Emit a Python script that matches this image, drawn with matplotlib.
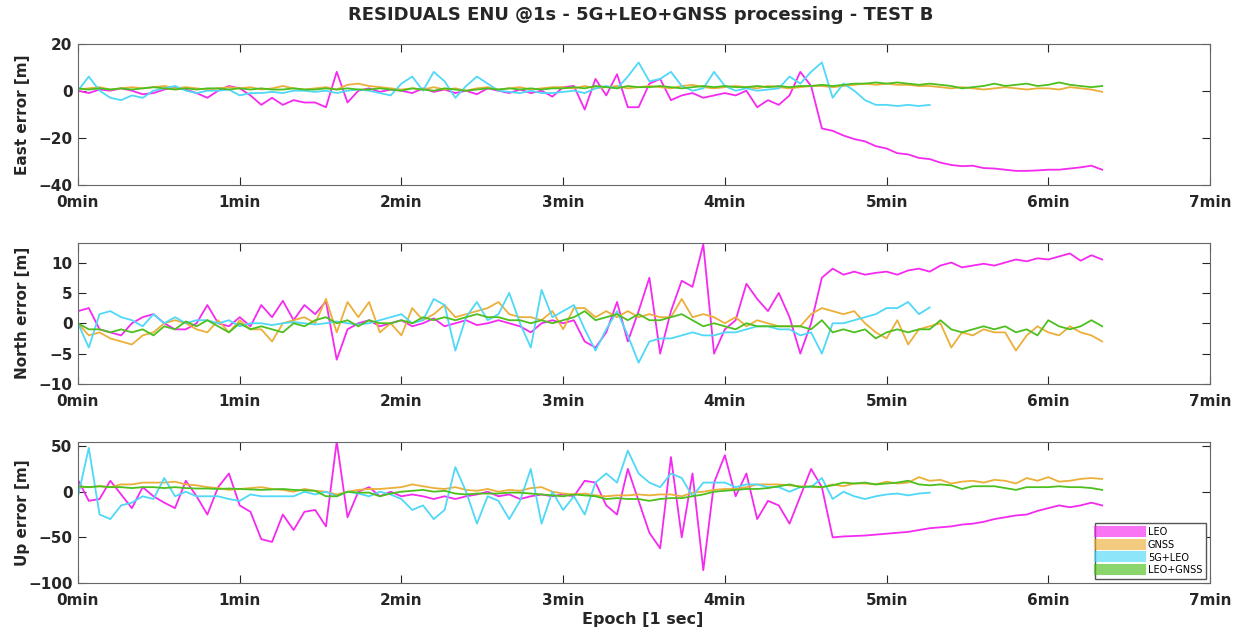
import matplotlib
matplotlib.use("Agg")
import matplotlib.pyplot as plt
import numpy as np

plt.rcParams['font.family'] = ['DejaVu Sans']
plt.rcParams['font.weight'] = 'bold'

# campionamento: un punto ogni 4 s
step = 4
labels = ["LEO", "GNSS", "5G+LEO", "LEO+GNSS"]
colors = ["#F52AF0", "#EBAF3A", "#4FD8F7", "#4DBF1F"]

# --- East [m] ---
east_leo = [0, -1, 0.5, 0, 1, 0, -1.5, -1, 0.5, 1.5, 0.5, -1, -3, 0, 2,
            1, -2, -6, -3, -6, -4, -5, -5, -7, 8, -5, 0, 1, -0.5, 0.5,
            0, -1, 1, -0.5, 0.5, -1, 0, -1.5, 1, 0, -1, 0.5, -1, 0, -2.5,
            1.5, 2, -8, 5, -2, 7, -7, -7, 3, 5, -4, -2, -1, -3, -2,
            -1, -2, 0, -7, -4, -6, -2, 8, 2, -16, -17, -19, -20.5, -21.5, -23.5,
            -24.5, -26.5, -27, -28.5, -29, -30.5, -31.5, -32, -31.8, -32.8, -33, -33.5, -34, -34, -33.8,
            -33.5, -33.5, -33, -32.5, -31.8, -33.5]
east_gnss = [0.5, 1, 1.5, 0.5, 1, 1.5, 1, 1.5, 2, 1, 1.5, 1, 0.5, 1, 1.5,
             1, 1.5, 0.5, 1, 2, 1, 0.5, 1, 1.5, 0.5, 2.5, 3, 2, 1.5, 1,
             0.5, 1, 0.5, 1.5, 0.5, 1, 0, 1, 1.5, 0.5, 1, 1.5, 0.5, 1, 1.5,
             1.5, 1, 2, 1, 1.5, 2, 1, 1.5, 2, 1.5, 1, 2, 2.5, 1.5, 1,
             1.5, 2, 1.5, 1, 2, 1.5, 1, 1.5, 2, 2, 1.5, 2, 2.5, 3, 2.5,
             3, 2.5, 2.5, 2, 2, 1.5, 1, 1.5, 1, 0.5, 1, 1.5, 1, 0.5, 1,
             1, 0.5, 1.5, 1, 0.5, -0.5]
east_5gleo = [0, 6, 0, -3, -4, -2, -3, 0, 1, 2, 0, -1, 0, 0, 0.5,
              -2, -1, -1, -0.5, -1, 0, 0, -0.5, 0, -1, 0, 0.5, 0, -1, -2,
              3, 6, 0, 8, 4, -3, 2, 6, 3, 0, -0.5, -1, 0, -1, -1,
              -0.5, 0, -1, 1, 2, 1, 6, 12, 4, 5, 8, 2, 0, 1, 8,
              2, 0, 1, 0, 0.5, 1, 6, 3, 8, 12, -3, 3, 0, -4, -6,
              -6, -6.5, -6, -6.5, -6]
east_leognss = [1, 0.5, 1, 0.5, 1, 0.5, 1, 1.5, 1, 0.5, 1, 0.5, 1, 1, 0.5,
                1, 0.5, 1, 0.5, 0.5, 1, 0.5, 0.5, 1, 0.5, 1, 0.5, 0.5, 1, 0.5,
                0, 1, 0.5, 0, 1, 0.5, 0, 0.5, 1, 0.5, 1, 0.5, 1, 0.5, 1,
                1, 1.5, 1, 2, 1.5, 1, 2, 1.5, 1.5, 2, 1.5, 1, 1.5, 2, 1.5,
                2, 1.5, 1.5, 2, 1.5, 2, 1.5, 2, 2, 2.5, 2, 2.5, 3, 3, 3.5,
                3, 3.5, 3, 2.5, 3, 2.5, 2, 1, 1.5, 2, 3, 2, 2.5, 3, 2,
                2.5, 3.5, 2.5, 2, 1.5, 2]

# --- North [m] ---
north_leo = [2, 2.5, -1, -1.5, -2, 0, 1, 1.5, 0, -1, -1, 0, 3, 0, -0.5,
             1, -0.5, 3, 1, 3.7, 0.5, 3, 1.5, 3.6, -6, -1, 0, 0.5, -0.5, 0,
             0.5, -0.5, 0, 0.8, -0.5, 0, 0.5, -0.3, 0, 0.5, 0, -0.5, -1.5, 0, 0.5,
             0, 0.5, -3, -4, -1.5, 3.5, -3, 2, 7.5, -5, 2, 7, 6, 13, -5,
             -1, 0.5, 6.5, 4, 2, 5, 1, -5, 0, 7.5, 9, 8, 8.5, 8, 8.3,
             8.5, 8, 8.7, 9, 8.5, 9.5, 10, 9.2, 9.5, 9.8, 9.5, 10, 10.5, 10.2, 10.7,
             10.5, 11, 11.5, 10.3, 11.2, 10.5]
north_gnss = [0, -2, -1.5, -2.5, -3, -3.5, -2, -1.5, 0, 0.5, 0, -1, -1.5, 0.5, -1.5,
              0.5, -1, -1, -3, 0, 0.5, 1, 0, 4, -1.5, 3.5, 1, 3.5, -1.5, 0,
              -2, 2.5, 0.5, 1.5, 3, 1, 1.5, 2, 2.5, 3.5, 1.5, 1, 1, 0.5, 2,
              -1, 2.5, 2.5, 1, 2, 1, 2, 1, 1.5, 1, 1, 4, 1, 1.5, 1,
              0, 1, -0.5, 0.5, 0, -0.5, -0.5, -0.5, 1.5, 2.5, 2, 1.5, 2, 0, -1.5,
              -2.5, 0.5, -3.5, -1, -0.5, 0, -4, -1.5, -2, -1, -1.5, -1.5, -4.5, -2, -0.5,
              -1.5, -2, -0.5, -1.5, -2, -3]
north_5gleo = [0, -4, 1.5, 2, 1, 0.5, -0.5, 1.5, 0, 1, 0, 0.5, 0.5, 0, 0.5,
               -0.5, 0, 0, -0.3, 0, 0.2, 0, -0.2, 0, 0.3, 0, -0.2, 0, 0.5, 1,
               1.5, 0, 0.5, 4, 3, -4.5, 1, 3.5, 0.5, 1.5, 5, 0, -4, 5.5, 1,
               2, 3, -1, -4.5, -1, 2, -2, -6.5, -3, -2.5, -2.5, -2, -1.5, -2, -2,
               -1.5, -1.5, -1, -0.5, -0.5, -1, -1, -2, -1.5, -5, 0, 0, 0.5, 1, 1.5,
               2.5, 2.5, 3.5, 1.5, 2.6]
north_leognss = [0, -1, -1, -1.5, -1, -1.5, -1, -2, -0.5, -1, 0.3, -0.5, 0.5, -0.5, -1.5,
                 0, -1, -0.5, -1, -1.5, 0, -0.5, 0.5, 1, 0, 0.5, -0.5, 0.5, 0, 0,
                 0.5, 0, 1, 0.5, 1, 0.5, 1, 1.5, 1, 1, 0.5, 0.5, 0, 0.5, 0,
                 0.5, 1, 2, 0.5, 1, 1.5, 0.5, 1.5, 0.5, 0.5, 1, 1.5, 0.5, -0.5, 0,
                 -0.5, -1, 0, -0.5, -0.5, -0.5, -0.5, -0.5, -1, 0.5, -1.5, -1, -1.5, -1, -2.5,
                 -1.5, -1, -1.5, -1, -1, 0.5, -1, -1.5, -1, -0.5, -1, -0.5, -1.5, -1, -2,
                 0.5, -0.5, -1, -0.5, 0.5, -0.5]

# --- Up [m] ---
up_leo = [13, -10, -8, 12, -3, -18, 5, -5, -12, -18, 12, -5, -25, 5, 20,
          -15, -22, -52, -55, -25, -42, -22, -20, -38, 55, -28, 0, 5, -5, 0,
          -5, -3, -5, -8, -5, -8, -5, -3, 0, -5, -3, -8, -5, -3, -5,
          -3, -5, 12, 10, -15, -25, 25, -10, -45, -62, 38, -50, 20, -86, 10,
          40, -5, 20, -30, -10, -15, -35, -5, 25, 5, -50, -49, -48.5, -48, -47,
          -46, -45, -44, -42, -40, -39, -38, -36, -35, -33, -30, -28, -26, -25, -21,
          -18, -15, -17, -15, -12, -15]
up_gnss = [5, 5, 6, 5, 8, 8, 10, 10, 10, 11, 8, 7, 5, 4, 2,
           3, 4, 5, 3, 2, 0, 3, 1, 0, -3, 0, 2, 3, 3, 4,
           5, 8, 6, 4, 3, 5, 2, 1, 3, 0, 2, 1, 4, 5, 0,
           -2, -3, -2, -4, -5, -4, -4, -3, -4, -3, -3, -5, -1, 0, 2,
           3, 3, 5, 8, 8, 8, 7, 6, 5, 5, 8, 6, 9, 9, 8,
           11, 9, 10, 16, 12, 13, 9, 11, 12, 10, 13, 12, 9, 15, 12,
           16, 11, 12, 14, 15, 14]
up_5gleo = [-5, 48, -25, -30, -15, -12, -5, -8, 15, -5, 0, -5, -5, -5, -8,
            -10, -3, -5, -5, -5, -5, 0, -3, 0, -5, 0, -2, -5, 0, -3,
            -8, -20, -15, -30, -20, 27, 0, -35, -5, -10, -30, -10, 25, -35, 0,
            -20, -5, -25, 10, 20, 10, 45, 20, 10, 5, 20, 15, -5, 10, 10,
            10, 5, 8, 8, 5, 5, 0, 5, 5, 15, -8, 0, -5, -8, -5,
            -3, -2, -4, -2, -1]
up_leognss = [6, 5, 6, 5, 5, 4, 5, 5, 4, 5, 4, 3.5, 3.5, 3, 3.5,
              3, 2.5, 2, 2.5, 3, 2, 1.5, 1, -5, -5, 0, -1, -1, -5, -2,
              0, 1, 2, 0, 1, -2, -3, -2, -2, -2, -1, -1, -2, -3, -4,
              -5, -3, -4, -5, -8, -7, -8, -8, -10, -8, -7, -7, -5, -3, 0,
              1, 2, 3, 3, 4, 6, 8, 5, 6, 5, 7, 10, 9, 10, 8,
              9, 10, 12, 8, 7, 8, 7, 3, 6, 6, 6, 4, 2, 5, 5,
              5, 6, 5, 5, 4, 2]

panels = [
    ("East error [m]", [east_leo, east_gnss, east_5gleo, east_leognss], (-40, 20), [-40, -20, 0, 20]),
    ("North error [m]", [north_leo, north_gnss, north_5gleo, north_leognss], (-10, 13.3), [-10, -5, 0, 5, 10]),
    ("Up error [m]", [up_leo, up_gnss, up_5gleo, up_leognss], (-100, 55), [-100, -50, 0, 50]),
]

fig = plt.figure(figsize=(12.4, 6.33), dpi=100)
bottoms = [0.7077, 0.3934, 0.0790]
axes = []
for (ylab, series, ylim, yt), b in zip(panels, bottoms):
    ax = fig.add_axes([0.0629, b, 0.9129, 0.2235])
    for vals, lab, col in zip(series, labels, colors):
        t = np.arange(len(vals)) * step
        ax.plot(t, vals, color=col, lw=1.3, label=lab)
    ax.set_xlim(0, 420)
    ax.set_ylim(*ylim)
    ax.set_yticks(yt)
    ax.set_xticks(np.arange(0, 421, 60))
    ax.set_xticklabels([f"{i}min" for i in range(8)])
    ax.tick_params(direction="in", length=6, width=0.8, top=True, right=True,
                   labelsize=11, colors="#262626")
    ax.tick_params(axis="x", pad=7)
    ax.tick_params(axis="y", pad=4)
    for s in ax.spines.values():
        s.set_color("#666666")
        s.set_linewidth(0.8)
    ax.set_ylabel(ylab, fontsize=11, fontweight="bold", color="#262626")
    ax.yaxis.set_label_coords(-0.042, 0.5)
    axes.append(ax)

leg = axes[2].legend(loc="lower right", fontsize=7, handlelength=4.2, handleheight=1.2,
                     borderaxespad=0.4, fancybox=False, edgecolor="#555555",
                     framealpha=1, labelspacing=0.25, borderpad=0.4)
for h in leg.legend_handles:
    h.set_linewidth(8)
    h.set_alpha(0.65)
for txt in leg.get_texts():
    txt.set_fontweight("normal")

fig.text(0.517, 0.976, "RESIDUALS ENU @1s - 5G+LEO+GNSS processing - TEST B",
         ha="center", va="center", fontsize=13, fontweight="bold", color="#262626")
fig.text(0.518, 0.021, "Epoch [1 sec]", ha="center", va="center",
         fontsize=11.5, fontweight="bold", color="#262626")

fig.savefig("out.png", dpi=100)
